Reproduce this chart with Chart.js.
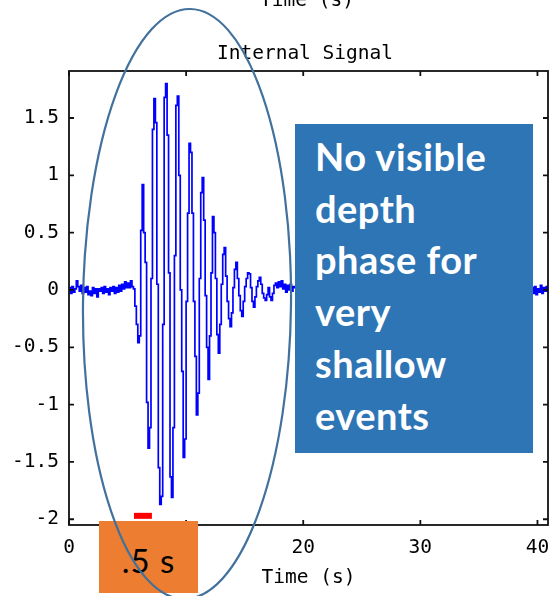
<!DOCTYPE html>
<html><head><meta charset="utf-8">
<script src="https://cdn.jsdelivr.net/npm/chart.js@4.4.0/dist/chart.umd.min.js"></script>
<style>
html,body{margin:0;padding:0;background:#fff;}
#wrap{position:relative;width:550px;height:596px;overflow:hidden;background:#fff;}
#c{position:absolute;left:0;top:0;}
.mono{position:absolute;left:0;text-align:center;font-family:'DejaVu Sans Mono',monospace;font-size:19.5px;line-height:20px;color:#000;white-space:nowrap;}
#topcut{top:-10px;width:614px;}
#ttl{top:43px;width:610px;}
#orange{position:absolute;left:99px;top:521px;width:99px;height:72px;background:#ED7D31;}
#orange div{position:absolute;left:0;top:19px;width:99px;text-align:center;font-family:Lato,'Open Sans',sans-serif;font-size:33px;line-height:40px;letter-spacing:1px;color:#000;white-space:nowrap;}
#blue{position:absolute;left:295px;top:124px;width:238px;height:329px;background:#2E75B6;}
#blue div{position:absolute;left:20px;top:7px;font-family:Lato,'Open Sans',sans-serif;font-weight:bold;font-size:38px;letter-spacing:0.5px;line-height:51.7px;color:#fff;white-space:nowrap;}
#ell{position:absolute;left:0;top:0;}
</style></head>
<body>
<div id="wrap">
<canvas id="c" width="550" height="596"></canvas>
<div id="topcut" class="mono">Time (s)</div>
<div id="ttl" class="mono">Internal Signal</div>
<div id="orange"><div>.5 s</div></div>
<div id="blue"><div>No visible<br>depth<br>phase for<br>very<br>shallow<br>events</div></div>
<svg id="ell" width="550" height="596"><ellipse cx="187" cy="304" rx="104" ry="295" transform="rotate(0.6 187 304)" fill="none" stroke="#41719C" stroke-width="2.2"/></svg>
</div>
<script>
// sampling step of the trace (s)
const DT = 0.125;
// pre-event noise, starting at t = 0 s
const preNoiseStart = 0;
const preNoise = [0.02,-0.03,0.03,-0.02,0.01,0.08,0.03,-0.01,
  0.04,-0.03,0.02,-0.02,0.03,-0.04,-0.01,-0.05,
  0.02,-0.03,0.01,-0.06,0.01,-0.01,0.02,-0.03,
  0.03,-0.02,0.01,-0.04,0.02,-0.01,0.03,-0.03,
  0.02,-0.02,0.04,-0.01,0.05,0.01,0.07,0.02,
  0.06,0.02,0.08,0.03];
// event signal, starting at t = 5.5 s
const signalStart = 5.5;
const signal = [0.01,-0.14,-0.30,-0.46,-0.40,0.52,0.92,0.50,
  0.24,-0.98,-1.38,-1.20,0.10,1.40,1.67,1.46,
  0.05,-1.55,-1.87,-1.80,-0.30,1.68,1.80,1.35,
  0.15,-1.63,-1.81,-1.20,0.30,1.61,1.69,1.00,
  0.00,-0.71,-1.46,-1.30,-0.10,0.67,1.28,1.20,
  0.67,-0.10,-0.58,-1.09,-0.90,0.10,0.85,0.98,
  0.61,-0.05,-0.50,-0.78,-0.40,0.15,0.64,0.50,
  0.10,-0.39,-0.55,-0.30,0.05,0.31,0.37,0.12,
  -0.10,-0.25,-0.32,-0.20,0.02,0.18,0.24,0.10,
  -0.05,-0.18,-0.23,-0.10,0.03,0.10,0.15,0.14,
  0.02,-0.10,-0.15,-0.06,0.03,0.08,0.11,0.05,
  -0.03,-0.07,-0.09,-0.04,0.02,-0.06,-0.09,-0.03,
  0.04,0.06,0.02,0.07,0.03,0.08,0.01,0.05,
  -0.02,0.04,0.00,0.05,-0.01,0.03,0.02];
// middle of the trace (behind the text box)
const midTimes = [19.5,21,24,27,30,33,36,39.375];
const midValues = [0.01,-0.02,0.02,-0.01,0.02,-0.02,0.01,-0.01];
// end of the trace, starting at t = 39.5 s
const tailStart = 39.5;
const tailNoise = [0.02,-0.03,0.03,-0.04,0.01,-0.02,0.04,-0.03,0.02,-0.01,0.03,-0.02];
// red marker
const markerTimes = [5.55, 7.08];
const markerLevel = -1.97;
// axes
const xTicks = [0,10,20,30,40];
const yTicks = [-2,-1.5,-1,-0.5,0,0.5,1,1.5];
const xRange = [0, 40.9];
const yRange = [-2.05, 1.91];

const trace = []
  .concat(preNoise.map((v,i)=>({x:preNoiseStart+i*DT,y:v})))
  .concat(signal.map((v,i)=>({x:signalStart+i*DT,y:v})))
  .concat(midTimes.map((t,i)=>({x:t,y:midValues[i]})))
  .concat(tailNoise.map((v,i)=>({x:tailStart+i*DT,y:v})));
const marker = markerTimes.map(t=>({x:t,y:markerLevel}));

const monoFont = {family:"'DejaVu Sans Mono', monospace", size:19.5, weight:'normal'};

const framePlugin = {
  id:'frame',
  afterDatasetsDraw(chart){
    const {ctx, chartArea:a, scales:{x,y}} = chart;
    ctx.save();
    ctx.strokeStyle = '#111';
    ctx.lineWidth = 1.8;
    ctx.strokeRect(a.left, a.top, a.right-a.left, a.bottom-a.top);
    ctx.beginPath();
    xTicks.forEach(v=>{
      const p = x.getPixelForValue(v);
      ctx.moveTo(p,a.bottom); ctx.lineTo(p,a.bottom-5);
      ctx.moveTo(p,a.top); ctx.lineTo(p,a.top+5);
    });
    yTicks.forEach(v=>{
      const p = y.getPixelForValue(v);
      ctx.moveTo(a.left,p); ctx.lineTo(a.left+5,p);
      ctx.moveTo(a.right,p); ctx.lineTo(a.right-5,p);
    });
    ctx.stroke();
    ctx.restore();
  }
};

new Chart(document.getElementById('c'), {
  type:'line',
  data:{datasets:[
    {data:trace, borderColor:'#0000ff', borderWidth:1.7, pointRadius:0, stepped:true, fill:false, tension:0},
    {data:marker, borderColor:'#ff0000', borderWidth:6, borderCapStyle:'butt', pointRadius:0, fill:false}
  ]},
  options:{
    responsive:false, animation:false, devicePixelRatio:1,
    layout:{padding:{left:0,right:2,top:71,bottom:0}},
    plugins:{
      legend:{display:false}, tooltip:{enabled:false}, title:{display:false}
    },
    scales:{
      x:{type:'linear', min:xRange[0], max:xRange[1],
        afterBuildTicks:s=>{s.ticks = xTicks.map(v=>({value:v}));},
        afterFit:s=>{s.height = 71; s.paddingLeft = 0; s.paddingRight = 0;},
        grid:{display:false, drawTicks:false}, border:{display:false},
        ticks:{color:'#000', font:monoFont, padding:11, maxRotation:0, autoSkip:false, callback:v=>String(v)},
        title:{display:true, text:'Time (s)', color:'#000', font:monoFont, padding:{top:0,bottom:6}}
      },
      y:{type:'linear', min:yRange[0], max:yRange[1],
        afterBuildTicks:s=>{s.ticks = yTicks.map(v=>({value:v}));},
        afterFit:s=>{s.width = 69; s.paddingTop = 0; s.paddingBottom = 0;},
        grid:{display:false, drawTicks:false}, border:{display:false},
        ticks:{color:'#000', font:monoFont, padding:10, autoSkip:false, callback:v=>String(v)}
      }
    }
  },
  plugins:[framePlugin]
});
</script>
</body></html>
